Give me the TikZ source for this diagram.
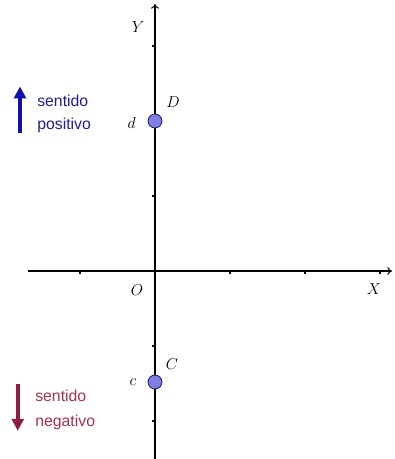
\documentclass[tikz,border=0pt]{standalone}
\usepackage{fontspec}
\newfontfamily\legendfont{Liberation Sans}
\usetikzlibrary{arrows.meta}
\definecolor{pointFill}{HTML}{7F7FE6}
\definecolor{pointLine}{HTML}{22226E}
\definecolor{senseBlue}{HTML}{1E1E8C}
\definecolor{senseBlueArrow}{HTML}{1010B0}
\definecolor{senseRed}{HTML}{A8324A}
\definecolor{senseRedArrow}{HTML}{8E1E3E}
\tikzset{
	axis/.style={line width=0.8pt, -{To[length=3.5pt, width=6pt]}},
	axistick/.style={line width=0.8pt},
	% points on the Y axis
	pointmark/.style={circle, draw=pointLine, fill=pointFill, line width=0.7pt, minimum size=0.37cm, inner sep=0pt},
	axislabel/.style={font=\fontsize{13}{15}\selectfont\itshape, inner sep=0pt},
	sensearrow/.style={line width=3pt, -{Triangle[length=9pt, width=9pt]}},
	sensetext/.style={font=\legendfont\fontsize{12}{14}\selectfont, anchor=west, inner sep=0pt}
}

\begin{document}
\begin{tikzpicture}[x=2cm, y=2cm]
	\useasboundingbox (-2.0667, -2.5067) rectangle (3.2, 3.6133);
	% axes
	\coordinate (O) at (0, 0);
	\coordinate (Xmin) at (-1.693, 0);
	\coordinate (Xmax) at (3.16, 0);
	\coordinate (Ymin) at (0, -2.5067);
	\coordinate (Ymax) at (0, 3.56);
	\draw[axis] (Xmin) -- (Xmax);
	\draw[axis] (Ymin) -- (Ymax);
	\foreach \t in {-1, 1, 2, 3}
		\draw[axistick] (\t, 0) -- (\t, -0.04);
	\foreach \t in {-2, -1, 1, 2, 3}
		\draw[axistick] (0, \t) -- (-0.04, \t);
	\node[axislabel] (labelO) at (-0.24, -0.253) {$O$};
	\node[axislabel] (labelX) at (2.92, -0.24) {$X$};
	\node[axislabel] (labelY) at (-0.227, 3.253) {$Y$};
	% points D and C
	\node[pointmark] (D) at (0, 2) {};
	\node[pointmark] (C) at (0, -1.48) {};
	\node[axislabel] (labelD) at (0.24, 2.253) {$D$};
	\node[axislabel] (labeld) at (-0.31, 1.97) {$d$};
	\node[axislabel] (labelC) at (0.227, -1.24) {$C$};
	\node[axislabel] (labelc) at (-0.293, -1.48) {$c$};
	% legend
	\coordinate (posFrom) at (-1.8, 1.84);
	\coordinate (posTo) at (-1.8, 2.46);
	\draw[sensearrow, senseBlueArrow] (posFrom) -- (posTo);
	\node[sensetext, text=senseBlue] (posA) at (-1.573, 2.27) {sentido};
	\node[sensetext, text=senseBlue] (posB) at (-1.573, 1.94) {positivo};
	\coordinate (negFrom) at (-1.83, -1.51);
	\coordinate (negTo) at (-1.83, -2.13);
	\draw[sensearrow, senseRedArrow] (negFrom) -- (negTo);
	\node[sensetext, text=senseRed] (negA) at (-1.6, -1.66) {sentido};
	\node[sensetext, text=senseRed] (negB) at (-1.6, -2.02) {negativo};
\end{tikzpicture}
\end{document}
